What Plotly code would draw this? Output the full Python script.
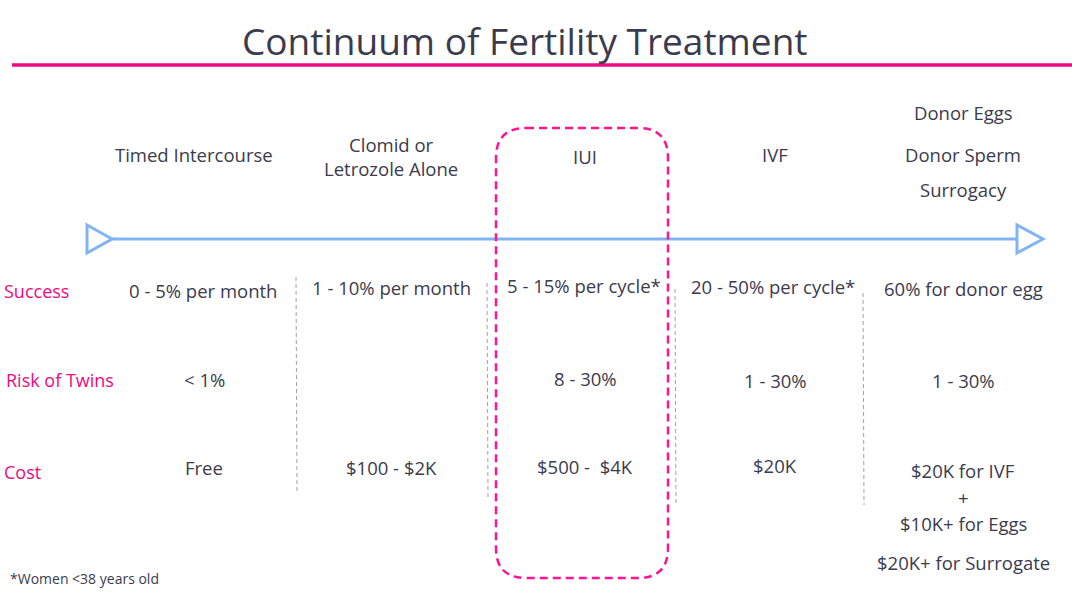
import plotly.graph_objects as go

# ---- data ----
title = "Continuum of Fertility Treatment"
treatments = [["Timed Intercourse"], ["Clomid or<br>Letrozole Alone"], ["IUI"], ["IVF"],
              ["Donor Eggs", "Donor Sperm", "Surrogacy"]]
row_labels = ["Success", "Risk of Twins", "Cost"]
success = ["0 - 5% per month", "1 - 10% per month", "5 - 15% per cycle*", "20 - 50% per cycle*", "60% for donor egg"]
twins = ["< 1%", "", "8 - 30%", "1 - 30%", "1 - 30%"]
cost = [["Free"], ["$100 - $2K"], ["$500 -  $4K"], ["$20K"],
        ["$20K for IVF", "+", "$10K+ for Eggs", "$20K+ for Surrogate"]]
footnote = "*Women <38 years old"

# ---- layout (pixel positions) ----
W, H = 1072, 597
TXT = "#3b3b4d"
PINK = "#ee0a80"
BLUE = "#80b4f2"
FONT = "Open Sans"

head_x = [194, 391, 585, 775, 963]
head_y = [[154], [156], [156], [154], [112, 154, 189]]
succ_x = [203, 391, 584, 773, 963]
succ_y = [290, 287, 285, 286, 288]
twin_x = [204, 391, 585, 775, 963]
twin_y = [379, 379, 378, 380, 380]
cost_x = [204, 391, 585, 775, 963]
cost_y = [[467], [467], [466], [465], [470, 497, 523, 562]]
label_x = [2, 4, 2]
label_y = [291, 380, 472]
sep = [(296, 277, 491), (487, 283, 497), (675, 289, 503), (863, 293, 505)]

fig = go.Figure()
ann = []
shapes = []

def add_text(x, y, t, size=18.5, color=TXT, anchor="center"):
    ann.append(dict(x=x, y=y, xref="x", yref="y", text=t, showarrow=False,
                    xanchor=anchor, yanchor="middle",
                    font=dict(family=FONT, size=size, color=color)))

add_text(525, 40, title, size=37)
shapes.append(dict(type="line", x0=12, x1=1072, y0=65, y1=65, xref="x", yref="y",
                   line=dict(color=PINK, width=3.5)))

for i, lines in enumerate(treatments):
    for t, y in zip(lines, head_y[i]):
        add_text(head_x[i], y, t)
for i, t in enumerate(success):
    add_text(succ_x[i], succ_y[i], t)
for i, t in enumerate(twins):
    if t:
        add_text(twin_x[i], twin_y[i], t)
for i, lines in enumerate(cost):
    for t, y in zip(lines, cost_y[i]):
        add_text(cost_x[i], y, t)
for t, x, y in zip(row_labels, label_x, label_y):
    add_text(x, y, t, size=18, color=PINK, anchor="left")
add_text(8, 578, footnote, size=14, anchor="left")

# arrow
shapes.append(dict(type="line", x0=112, x1=1016, y0=239, y1=239, xref="x", yref="y",
                   line=dict(color=BLUE, width=3)))
shapes.append(dict(type="path", path="M 87 225 L 87 253 L 112 239 Z", xref="x", yref="y",
                   line=dict(color=BLUE, width=3), fillcolor="white"))
shapes.append(dict(type="path", path="M 1017 225 L 1017 253 L 1043 239 Z", xref="x", yref="y",
                   line=dict(color=BLUE, width=3), fillcolor="white"))

# separators
for x, y0, y1 in sep:
    shapes.append(dict(type="line", x0=x, x1=x + 1, y0=y0, y1=y1, xref="x", yref="y",
                       line=dict(color="#a0a0b0", width=1, dash="4px,3px")))

# highlight box
x0, x1, y0, y1, r = 496, 668, 128, 578, 30
path = (f"M {x0+r} {y0} L {x1-r} {y0} Q {x1} {y0} {x1} {y0+r} L {x1} {y1-r} "
        f"Q {x1} {y1} {x1-r} {y1} L {x0+r} {y1} Q {x0} {y1} {x0} {y1-r} "
        f"L {x0} {y0+r} Q {x0} {y0} {x0+r} {y0} Z")
shapes.append(dict(type="path", path=path, xref="x", yref="y",
                   line=dict(color="#ff1493", width=2.5, dash="8px,5px")))

fig.update_layout(
    width=W, height=H, margin=dict(l=0, r=0, t=0, b=0),
    paper_bgcolor="white", plot_bgcolor="white",
    xaxis=dict(range=[0, W], visible=False, fixedrange=True),
    yaxis=dict(range=[H, 0], visible=False, fixedrange=True),
    annotations=ann, shapes=shapes, showlegend=False,
)
fig.write_html("out.html", config={"displayModeBar": False},
               post_script="document.body.style.margin='0';document.body.style.overflow='hidden';")
